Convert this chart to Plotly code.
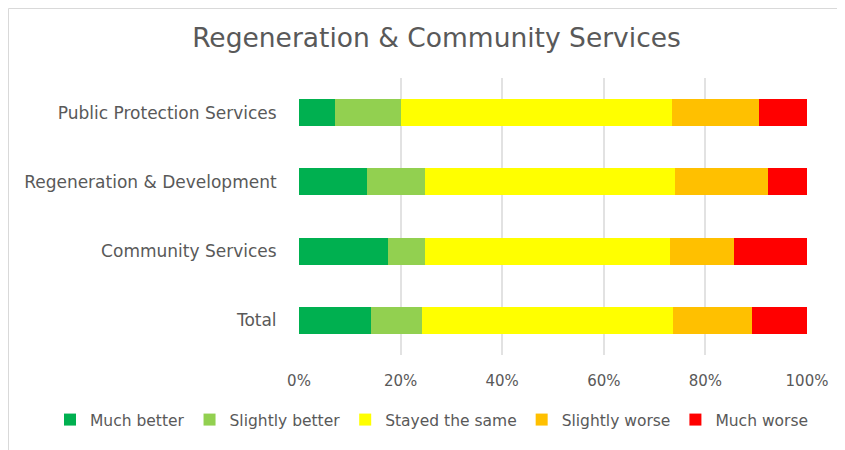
import plotly.graph_objects as go

categories = ["Public Protection Services", "Regeneration & Development", "Community Services", "Total"]
series_names = ["Much better", "Slightly better", "Stayed the same", "Slightly worse", "Much worse"]
much_better = [7.1, 13.4, 17.6, 14.2]
slightly_better = [13.0, 11.5, 7.3, 10.0]
stayed_same = [53.3, 49.2, 48.2, 49.5]
slightly_worse = [17.2, 18.2, 12.5, 15.4]
much_worse = [9.4, 7.7, 14.4, 10.9]
tick_vals = [0, 20, 40, 60, 80, 100]
tick_text = ["0%", "20%", "40%", "60%", "80%", "100%"]

colors = ["#00B050", "#92D050", "#FFFF00", "#FFC000", "#FF0000"]
values = [much_better, slightly_better, stayed_same, slightly_worse, much_worse]

FONT = "DejaVu Sans"
TXT = "#595959"
OFF = 8  # page body margin
W, H = 845, 450
PL, PR, PT, PB = 299, 807, 78, 355  # plot area in page pixels


def px(X):
    return (X - PL) / (PR - PL)


def py(Y):
    return (PB - Y) / (PB - PT)


fig = go.Figure()
for name, vals, col in zip(series_names, values, colors):
    fig.add_trace(go.Bar(
        y=categories, x=vals, name=name, orientation="h",
        marker=dict(color=col, line=dict(width=0)),
    ))

fig.update_layout(
    barmode="stack",
    bargap=0.61,
    width=W, height=H,
    margin=dict(l=PL - OFF, r=W - (PR - OFF), t=PT - OFF, b=H - (PB - OFF), autoexpand=False),
    paper_bgcolor="white", plot_bgcolor="white",
    font=dict(family=FONT, color=TXT, size=14),
    title=dict(text="Regeneration & Community Services", xref="container", x=(436.5 - OFF) / W,
               xanchor="center", yref="container", y=1 - (38 - OFF) / H, yanchor="middle",
               font=dict(size=26.5, color=TXT, family=FONT)),
    xaxis=dict(range=[0, 100], tickvals=tick_vals, ticktext=tick_text, showgrid=True,
               gridcolor="#E2E2E2", gridwidth=2, zeroline=False, showline=False,
               ticks="outside", ticklen=12, tickcolor="rgba(0,0,0,0)",
               tickfont=dict(size=15, color=TXT)),
    yaxis=dict(categoryorder="array", categoryarray=categories[::-1], showgrid=False,
               ticks="outside", ticklen=18, tickcolor="rgba(0,0,0,0)",
               tickfont=dict(size=17, color=TXT), showline=False),
    legend=dict(orientation="h", xref="paper", yref="paper",
                x=px(50), xanchor="left",
                y=py(420), yanchor="middle", traceorder="normal",
                font=dict(size=15.5, color=TXT), itemwidth=30),
    showlegend=True,
    shapes=[dict(type="rect", xref="paper", yref="paper",
                 x0=px(OFF + 0.5), x1=px(870),
                 y0=py(480), y1=py(OFF + 0.5),
                 line=dict(color="#D9D9D9", width=1), fillcolor="rgba(0,0,0,0)", layer="below")],
)

fig.write_html("out.html")
